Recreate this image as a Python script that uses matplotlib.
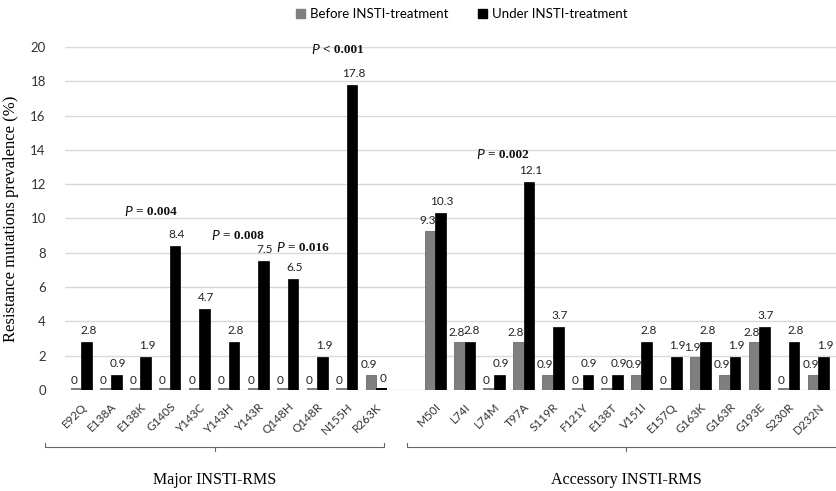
import matplotlib.pyplot as plt
import numpy as np
from matplotlib.lines import Line2D

plt.rcParams['font.family'] = ['Lato', 'DejaVu Sans']

major = ['E92Q', 'E138A', 'E138K', 'G140S', 'Y143C', 'Y143H', 'Y143R',
         'Q148H', 'Q148R', 'N155H', 'R263K']
accessory = ['M50I', 'L74I', 'L74M', 'T97A', 'S119R', 'F121Y', 'E138T',
             'V151I', 'E157Q', 'G163K', 'G163R', 'G193E', 'S230R', 'D232N']

major_before = [0, 0, 0, 0, 0, 0, 0, 0, 0, 0, 0.9]
major_under = [2.8, 0.9, 1.9, 8.4, 4.7, 2.8, 7.5, 6.5, 1.9, 17.8, 0]
acc_before = [9.3, 2.8, 0, 2.8, 0.9, 0, 0, 0.9, 0, 1.9, 0.9, 2.8, 0, 0.9]
acc_under = [10.3, 2.8, 0.9, 12.1, 3.7, 0.9, 0.9, 2.8, 1.9, 2.8, 1.9, 3.7, 2.8, 1.9]

# p-value notes: (x, y, text)
p_notes = [(1.45, 10.4, '= 0.004'), (4.4, 9.0, '= 0.008'), (6.6, 8.3, '= 0.016'),
           (7.8, 19.8, '< 0.001'), (13.4, 13.7, '= 0.002')]

labels = major + accessory
before = major_before + acc_before
under = major_under + acc_under
x = np.concatenate([np.arange(len(major)), np.arange(len(accessory)) + len(major) + 1])

fig = plt.figure(figsize=(8.36, 4.91), dpi=100)
ax = fig.add_axes([0.078, 0.2057, 0.922, 0.6986])

w = 0.36
gray = '#7f7f7f'
ax.bar(x - w / 2, before, width=w, color=gray, edgecolor='#5a5a5a', linewidth=0.5, zorder=3)
ax.bar(x + w / 2, under, width=w, color='black', edgecolor='black', linewidth=0.5, zorder=3)
# flat slabs for zero values
for xi, b, u in zip(x, before, under):
    if b == 0:
        ax.bar(xi - w / 2, 0.12, width=w, color=gray, zorder=3)
    if u == 0:
        ax.bar(xi + w / 2, 0.12, width=w, color='black', zorder=3)

for xi, b, u in zip(x, before, under):
    ax.text(xi - w / 2 - 0.08, b + 0.25, f'{b:g}', ha='center', va='bottom', fontsize=8.5, color='#222222')
    ax.text(xi + w / 2 + 0.05, u + 0.35, f'{u:g}', ha='center', va='bottom', fontsize=8.5, color='#222222')

for px, py, txt in p_notes:
    ax.text(px, py, 'P', style='italic', fontsize=10, ha='left', va='center', color='#111111')
    ax.text(px + 0.4, py, txt, family='Liberation Serif', fontweight='bold', fontsize=9.5,
            ha='left', va='center', color='#111111')

ax.set_xlim(-0.55, len(labels) + 0.6)
ax.set_ylim(0, 20)
ax.set_yticks(np.arange(0, 21, 2))
ax.tick_params(axis='y', length=0, labelsize=9.5, labelcolor='#333333', pad=14)
ax.set_xticks(x)
ax.set_xticklabels(labels, rotation=45, ha='right', rotation_mode='anchor', fontsize=8.5, color='#333333')
ax.tick_params(axis='x', length=0, pad=8)
ax.grid(axis='y', color='#d9d9d9', linewidth=1, zorder=0)
for s in ax.spines.values():
    s.set_visible(False)
ax.set_ylabel('Resistance mutations prevalence (%)', family='Liberation Serif', fontsize=12, labelpad=8)

# group brackets (figure pixels -> fraction)
W, H = 836, 491
def fx(p): return p / W
def fy(p): return 1 - p / H

lc = '#666666'
fig.add_artist(Line2D([fx(45), fx(45), fx(384), fx(384)], [fy(443), fy(447), fy(447), fy(443)],
                      color=lc, linewidth=0.8))
fig.add_artist(Line2D([fx(215), fx(215)], [fy(447), fy(451)], color=lc, linewidth=0.8))
fig.add_artist(Line2D([fx(407), fx(407), fx(836)], [fy(443), fy(447), fy(447)], color=lc, linewidth=0.8))
fig.add_artist(Line2D([fx(626), fx(626)], [fy(447), fy(451)], color=lc, linewidth=0.8))
fig.text(fx(215), fy(480), 'Major INSTI-RMS', family='Liberation Serif', fontsize=11.5, ha='center', va='center')
fig.text(fx(626), fy(480), 'Accessory INSTI-RMS', family='Liberation Serif', fontsize=11.5, ha='center', va='center')

handles = [plt.Rectangle((0, 0), 1, 1, color=gray), plt.Rectangle((0, 0), 1, 1, color='black')]
fig.legend(handles, ['Before INSTI-treatment', 'Under INSTI-treatment'], loc='center',
           bbox_to_anchor=(fx(462), fy(14)), ncol=2, frameon=False, fontsize=9.5,
           handlelength=0.7, handleheight=0.7, handletextpad=0.4, columnspacing=2.2)

fig.savefig('out.png', dpi=100)
